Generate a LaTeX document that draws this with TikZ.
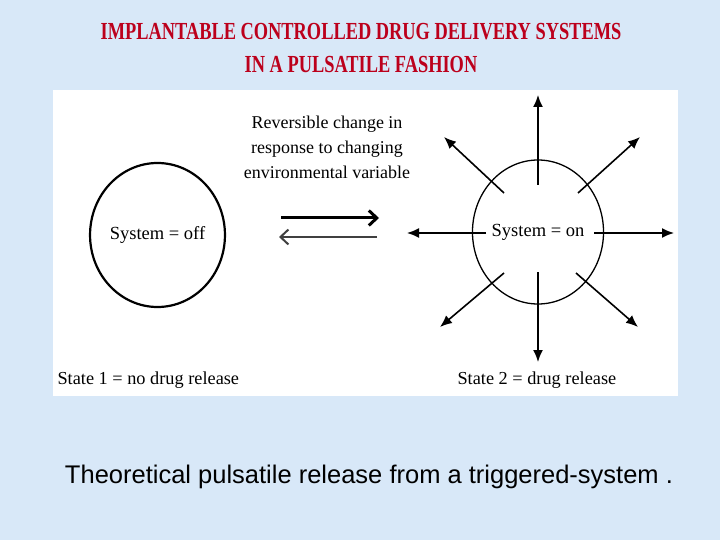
\documentclass[tikz,border=0pt]{standalone}
\usepackage{fontspec}
\setmainfont{Liberation Serif}
\newfontfamily\titlefont[FakeStretch=0.75]{Liberation Serif}
\newfontfamily\capfont{Liberation Sans}
\usetikzlibrary{arrows.meta,shapes.geometric}

\definecolor{slidebg}{HTML}{D8E8F8}
\definecolor{titlered}{HTML}{BC001C}

\tikzset{
    state/.style={draw, ellipse, minimum width=131pt, minimum height=144pt,
        inner sep=0pt, font=\fontsize{18.5}{22}\selectfont},
    release/.style={-{Latex[length=12pt,width=10pt]}, line width=1.6pt},
    swap/.style={-{Straight Barb[length=8pt,width=15pt]}},
    lbl/.style={font=\fontsize{18.3}{22}\selectfont}
}

\begin{document}
\begin{tikzpicture}[x=1pt, y=-1pt]
    \useasboundingbox (0,0) rectangle (720,540);
    \fill[slidebg] (0,0) rectangle (720,540);
    \fill[white] (53,90) rectangle (678,396);
    % title
    \node[titlered, font=\titlefont\bfseries\fontsize{24.5}{33}\selectfont, align=center] (title)
        at (361,48) {IMPLANTABLE CONTROLLED DRUG DELIVERY SYSTEMS\\IN A PULSATILE FASHION};
    % the two states
    \node[state, line width=2.2pt] (off) at (157.5,235) {System = off};
    \node[state, line width=1.3pt] (on) at (538,232) {\raisebox{-2pt}{System = on}};
    % drug release
    \foreach \a/\b/\c/\d in {0/-47/0/-137, 0/40/0/130, -52/1/-131/1, 56/1/136/1,
                             -34/-39/-94/-95, 40/-39/102/-95, -34/41/-98/95, 38/41/100/95}
        \draw[release, shift={(on.center)}] (\a,\b) -- (\c,\d);
    % reversible change
    \node[align=center, font=\fontsize{18}{25}\selectfont] (change) at (327,147)
        {Reversible change in\\response to changing\\environmental variable};
    \coordinate (fwdA) at (281,218);
    \coordinate (fwdB) at (379,218);
    \coordinate (bckA) at (377,237);
    \coordinate (bckB) at (279,237);
    \draw[swap, line width=3pt] (fwdA) -- (fwdB);
    \draw[swap, line width=2pt, black!75] (bckA) -- (bckB);
    % state labels
    \node[lbl, anchor=west] (s1) at (54,380) {State 1 = no drug release};
    \node[lbl, anchor=west] (s2) at (454,380) {State 2 = drug release};
    % caption
    \node[font=\capfont\fontsize{25.5}{30}\selectfont] (caption) at (369,477)
        {Theoretical pulsatile release from a triggered-system .};
\end{tikzpicture}
\end{document}
